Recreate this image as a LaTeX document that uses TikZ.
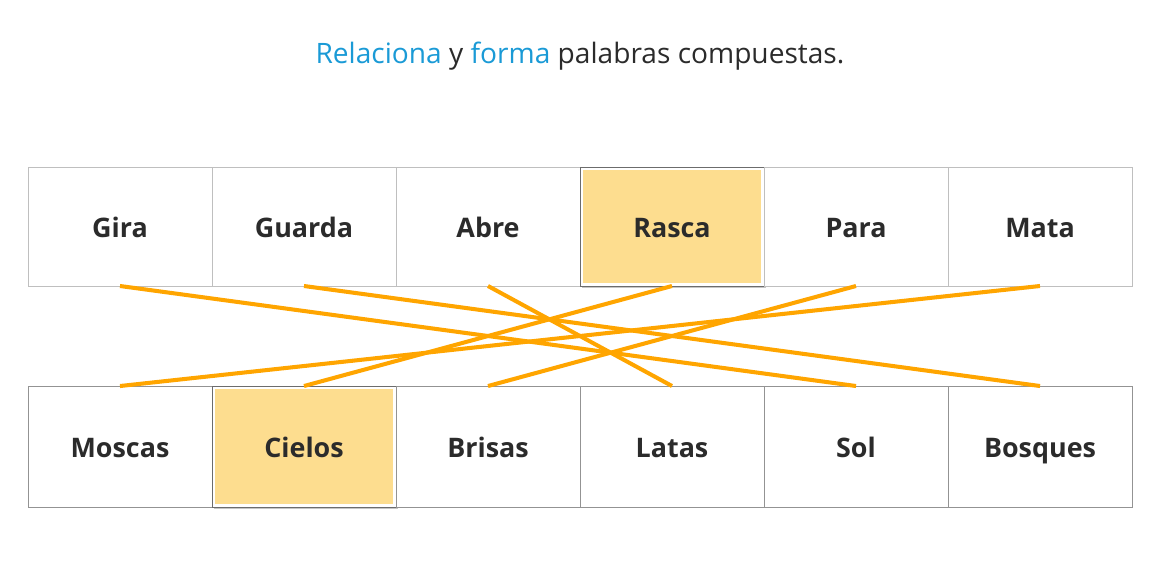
\documentclass[tikz,border=0pt]{standalone}
\usepackage{fontspec}
\setmainfont{Open Sans}
\usetikzlibrary{positioning,shadows}
\definecolor{linkblue}{HTML}{1A9AD6}
\definecolor{inkgray}{HTML}{2B2B2B}
\definecolor{pickfill}{HTML}{FDDD8F}
\definecolor{joinorange}{HTML}{FFA500}
\tikzset{
  plain/.style={},
  word box/.style={
    draw=gray!50, fill=white, rectangle, outer sep=0pt, inner sep=0pt,
    minimum width=3.68cm, minimum height=2.38cm,
    text height=14pt, text depth=1.9pt,
    font=\fontsize{15.3}{18}\selectfont\bfseries, text=inkgray
  },
  low box/.style={
    word box, draw=gray!85, minimum height=2.42cm,
    drop shadow={shadow xshift=0.8pt, shadow yshift=-0.8pt, opacity=0.3}
  },
  picked/.style={
    draw=gray!85!black,
    drop shadow={shadow xshift=1pt, shadow yshift=-1pt, opacity=0.45},
    path picture={
      \fill[pickfill] ([shift={(0.06cm,-0.06cm)}]path picture bounding box.north west)
        rectangle ([shift={(-0.06cm,0.06cm)}]path picture bounding box.south east);
    }
  },
  join line/.style={draw=joinorange, line width=2.3pt}
}

\begin{document}
\begin{tikzpicture}[x=0.02cm,y=-0.02cm]
  \useasboundingbox (0,0) rectangle (1155,562);

  \node (title) [text=inkgray, font=\fontsize{16}{19}\selectfont] at (580,56)
    {\textcolor{linkblue}{Relaciona} y \textcolor{linkblue}{forma} palabras compuestas.};

  % first halves
  \foreach \w/\s [count=\i] in {Gira/plain,Guarda/plain,Abre/plain,Rasca/picked,Para/plain,Mata/plain}
  {
    \node (top\i) [word box,\s] at ({120+184*(\i-1)},226.5) {\w};
  }
  % second halves
  \foreach \w/\s [count=\i] in {Moscas/plain,Cielos/picked,Brisas/plain,Latas/plain,Sol/plain,Bosques/plain}
  {
    \node (bot\i) [low box,\s] at ({120+184*(\i-1)},446.5) {\w};
  }

  % matches
  \foreach \a/\b in {1/5,2/6,3/4,4/2,5/3,6/1}
    \draw[join line] (top\a.south) -- (bot\b.north);
\end{tikzpicture}
\end{document}
